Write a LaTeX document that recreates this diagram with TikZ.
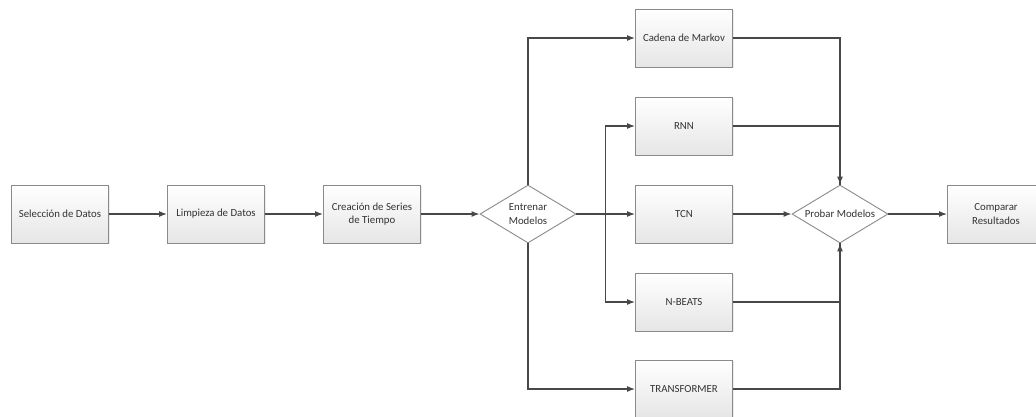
\documentclass[tikz,border=0pt]{standalone}
\usepackage{fontspec}
\setmainfont{Carlito}
\usepackage{tikz}
\usetikzlibrary{shapes.geometric,shadows,calc,arrows.meta}
\definecolor{linegray}{HTML}{484848}
\definecolor{boxgray}{HTML}{8A8A8A}
\definecolor{txtgray}{HTML}{333333}

\begin{document}
\begin{tikzpicture}[x=1pt, y=-1pt,
			every node/.style={font=\fontsize{10.8}{13.6}\selectfont, color=txtgray},
			box/.style={draw=boxgray, line width=0.9pt, top color=white, bottom color=black!10, minimum width=97pt, minimum height=58pt, inner sep=2pt, align=center, drop shadow={opacity=0.15, shadow xshift=1.2pt, shadow yshift=-1.2pt}},
			decision/.style={diamond, draw=boxgray, line width=0.9pt, fill=white, aspect=1.66, minimum width=96pt, minimum height=58pt, inner sep=0pt, align=center},
			arr/.style={-{Latex[length=8pt, width=6pt]}, line width=1.2pt, draw=linegray},
			lin/.style={line width=1.2pt, draw=linegray}
		]
		\useasboundingbox (0,0) rectangle (1036,416);

		\node[box] (sel) at (60,214) {Selección de Datos};
		\node[box] (lim) at (216,214) {Limpieza de Datos};
		\node[box] (cre) at (372,214) {Creación de Series\\de Tiempo};
		\node[decision] (ent) at (528,214) {Entrenar\\Modelos};

		\node[box] (mar) at (684,38) {Cadena de Markov};
		\node[box] (rnn) at (684,126) {RNN};
		\node[box] (tcn) at (684,214) {TCN};
		\node[box] (nbe) at (684,302) {N-BEATS};
		\node[box] (tra) at (684,389) {TRANSFORMER};

		\node[decision] (pro) at (840,214) {Probar Modelos};
		\node[box] (com) at (996,214) {Comparar\\Resultados};

		\coordinate (jl) at ($(ent.east)!0.5!(tcn.west)$);

		\draw[arr] (sel) -- (lim);
		\draw[arr] (lim) -- (cre);
		\draw[arr] (cre) -- (ent.west);
		\draw[arr] (ent.north) |- (mar.west);
		\draw[arr] (ent.south) |- (tra.west);
		\draw[arr] (ent.east) -- (tcn.west);
		\draw[arr] (jl) |- (rnn.west);
		\draw[arr] (jl) |- (nbe.west);

		\draw[arr] (mar.east) -| (pro.north);
		\draw[lin] (rnn.east) -| (pro.north);
		\draw[arr] (tcn.east) -- (pro.west);
		\draw[lin] (nbe.east) -| (pro.south);
		\draw[arr] (tra.east) -| (pro.south);
		\draw[arr] (pro.east) -- (com.west);
	\end{tikzpicture}
\end{document}
